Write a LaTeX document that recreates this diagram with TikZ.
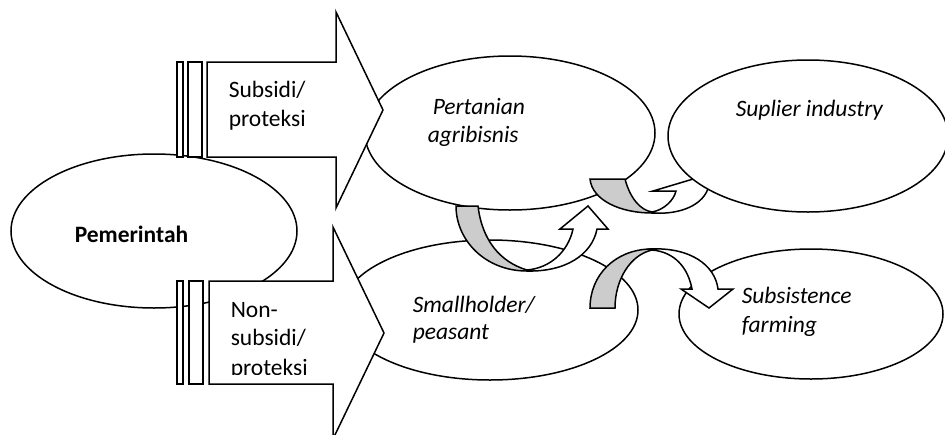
\documentclass[tikz,border=0pt]{standalone}
\usepackage{fontspec}
\setmainfont{Carlito}
\usetikzlibrary{shapes.geometric}
\definecolor{bandgray}{RGB}{204,204,204}
\begin{document}
\begin{tikzpicture}[x=1pt,y=-1pt,line width=1.5pt,line join=miter,
  oval/.style={shape=ellipse,draw=black,fill=white,inner sep=0pt,line width=1.5pt},
  blockarrow/.style={draw=black,fill=white,line width=1.5pt},
  stripe/.style={draw=black,fill=white,line width=1.5pt},
  band/.style={draw=black,fill=bandgray,line width=1.5pt},
  front/.style={draw=black,fill=white,line width=1.5pt},
  lbl/.style={anchor=base west,inner sep=0pt,font=\fontsize{23.5}{29}\selectfont},
  ilbl/.style={anchor=base west,inner sep=0pt,font=\fontsize{23.5}{29}\selectfont\itshape},
  blbl/.style={anchor=base west,inner sep=0pt,font=\fontsize{23.5}{29}\selectfont\bfseries}]
\useasboundingbox (0,0) rectangle (945,434);
\clip (0,0) rectangle (945,434);

% ellipses (lower layer)
\node[oval,minimum width=286pt,minimum height=154pt] (gov) at (154,231) {};
\node[oval,minimum width=290pt,minimum height=154pt] (agri) at (510,133) {};
\node[oval,minimum width=296pt,minimum height=140pt] (small) at (490,310) {};
\node[oval,minimum width=264pt,minimum height=130pt] (subs) at (811,314) {};

% striped block arrows
\draw[stripe] (177,62) rectangle (183,157);
\draw[stripe] (188,62) rectangle (202,157);
\draw[blockarrow] (207,62) -- (336,62) -- (336,12) -- (383,110) -- (336,208) -- (336,157) -- (207,157) -- cycle;

\draw[stripe] (177,281) rectangle (183,384);
\draw[stripe] (189,281) rectangle (203,384);
\draw[blockarrow] (209,281) -- (333,281) -- (333,227) -- (384,333) -- (333,439) -- (333,384) -- (209,384) -- cycle;

% curved arrow 1 (agribisnis <-> smallholder)
\draw[band] (456,206) -- (478,206) .. controls (482,240) and (500,262) .. (527,270)
  -- (527,271) .. controls (485,271) and (456,240) .. (456,206) -- cycle;
\draw[front] (527,271) .. controls (565,272) and (592,255) .. (597,229)
  -- (608,229) -- (588,206) -- (560,229) -- (573,229)
  .. controls (568,252) and (550,268) .. (527,270) -- cycle;

% curved arrow 3 (smallholder -> subsistence)
\draw[band] (590,308) -- (615,308) .. controls (615,280) and (630,255) .. (652,250)
  -- (650,249) .. controls (615,250) and (590,275) .. (590,308) -- cycle;
\draw[front] (650,249) .. controls (690,247) and (715,265) .. (718,289)
  -- (733,289) -- (709,308) -- (681,289) -- (692,289)
  .. controls (688,268) and (675,252) .. (652,250) -- cycle;

% curved arrow 2 (agribisnis -> suplier)
\draw[band] (590,179) -- (625,179) .. controls (630,198) and (640,210) .. (652,212)
  -- (652,213) .. controls (620,213) and (592,200) .. (590,179) -- cycle;
\draw[front] (652,213) .. controls (680,215) and (705,205) .. (709,185)
  -- (720,171) -- (653,191) -- (676,191)
  .. controls (674,200) and (664,210) .. (652,212) -- cycle;

% top-right ellipse covers arrow 2 head
\node[oval,minimum width=280pt,minimum height=152pt] (supl) at (808,136) {};

% labels
\node[lbl] (t1a) at (228,97) {Subsidi/};
\node[lbl] (t1b) at (228,126) {proteksi};
\begin{scope}
\clip (209,281) rectangle (333,374);
\node[lbl] (t2a) at (230,317) {Non-};
\node[lbl] (t2b) at (230,345) {subsidi/};
\node[lbl] (t2c) at (230,375) {proteksi};
\end{scope}
\node[blbl] (tgov) at (74,242) {Pemerintah};
\node[ilbl] (tagri1) at (432,114) {Pertanian};
\node[ilbl] (tagri2) at (427,142) {agribisnis};
\node[ilbl] (tsupl) at (735,116) {Suplier industry};
\node[ilbl] (tsmall1) at (412,312) {Smallholder/};
\node[ilbl] (tsmall2) at (412,339) {peasant};
\node[ilbl] (tsubs1) at (741,303) {Subsistence};
\node[ilbl] (tsubs2) at (741,332) {farming};
\end{tikzpicture}
\end{document}
